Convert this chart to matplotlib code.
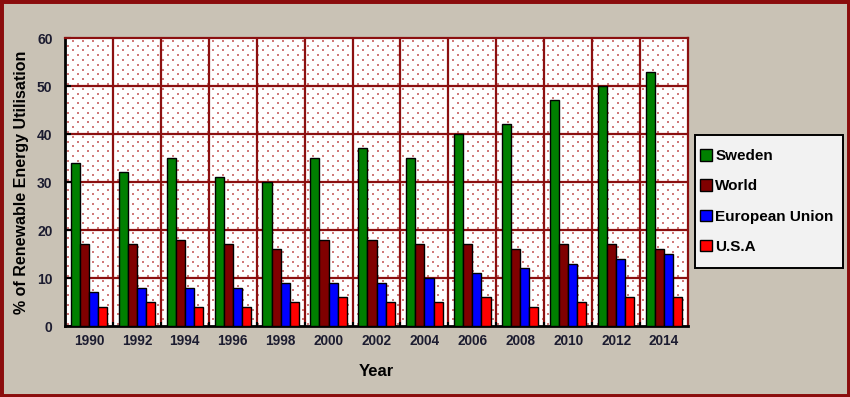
import numpy as np
import matplotlib.pyplot as plt
from matplotlib.patches import Rectangle

years = ["1990", "1992", "1994", "1996", "1998", "2000", "2002",
         "2004", "2006", "2008", "2010", "2012", "2014"]
sweden = [34, 32, 35, 31, 30, 35, 37, 35, 40, 42, 47, 50, 53]
world = [17, 17, 18, 17, 16, 18, 18, 17, 17, 16, 17, 17, 16]
eu = [7, 8, 8, 8, 9, 9, 9, 10, 11, 12, 13, 14, 15]
usa = [4, 5, 4, 4, 5, 6, 5, 5, 6, 4, 5, 6, 6]

series = [("Sweden", sweden, "#008000"),
          ("World", world, "#800000"),
          ("European Union", eu, "#0000ff"),
          ("U.S.A", usa, "#ff0000")]

plt.rcParams['font.family'] = ['Liberation Sans', 'DejaVu Sans']
plt.rcParams['font.weight'] = 'bold'

bg = "#c9c2b5"
grid_red = "#8b1010"
txt = "#1c1c30"

fig = plt.figure(figsize=(8.5, 3.97), dpi=100, facecolor=bg)
fig.patches.append(Rectangle((0, 0), 1, 1, transform=fig.transFigure,
                             fill=False, edgecolor="#8b0d0d", linewidth=5))

ax = fig.add_axes([65 / 850, 1 - 326 / 397, 623 / 850, 288 / 397])
ax.set_facecolor("white")

# dotted background pattern (staggered grid, ~10px x 5px)
gx, gy = [], []
for r, yy in enumerate(np.arange(2, 288, 4.8)):
    off = 5 if r % 2 else 0
    for xx in np.arange(3 + off, 623, 10):
        gx.append(xx / 623)
        gy.append(yy / 288)
ax.scatter(gx, gy, s=1.6, marker="s", color="#d07a7a", linewidths=0,
           transform=ax.transAxes, zorder=0)

x = np.arange(len(years))
w = 0.19
for i, (name, vals, col) in enumerate(series):
    ax.bar(x + (i - 1.5) * w, vals, w, color=col, edgecolor="black",
           linewidth=1.0, label=name, zorder=3)

ax.set_xlim(-0.5, len(years) - 0.5)
ax.set_ylim(0, 60)
ax.set_yticks(range(0, 61, 10))
ax.set_xticks(x)
ax.set_xticklabels(years)
ax.set_xticks(x[:-1] + 0.5, minor=True)

for v in range(10, 60, 10):
    ax.axhline(v, color=grid_red, linewidth=1.6, zorder=1)
for b in x[:-1] + 0.5:
    ax.axvline(b, color=grid_red, linewidth=1.6, zorder=1)

ax.tick_params(axis="x", which="major", length=0, pad=6, labelsize=9.8, labelcolor=txt)
ax.tick_params(axis="x", which="minor", length=3, direction="in", color="black", width=1.5)
ax.tick_params(axis="y", length=4, direction="in", width=1.5, pad=9, labelsize=10, labelcolor=txt)

ax.spines["left"].set_linewidth(2)
ax.spines["bottom"].set_linewidth(2)
ax.spines["top"].set_color(grid_red)
ax.spines["right"].set_color(grid_red)
ax.spines["top"].set_linewidth(1.6)
ax.spines["right"].set_linewidth(1.6)

ax.set_xlabel("Year", fontsize=12, fontweight="bold", labelpad=11)
ax.set_ylabel("% of Renewable Energy Utilisation", fontsize=11.5, fontweight="bold", labelpad=6)

fig.patches.append(Rectangle((695 / 850, 1 - 268 / 397), 148 / 850, 133 / 397,
                             transform=fig.transFigure, facecolor="#f2f2f2",
                             edgecolor="black", linewidth=1.4, zorder=1))
leg = fig.legend(loc="center left", bbox_to_anchor=(700 / 850, 1 - 201.5 / 397),
                 fontsize=11, frameon=False, borderpad=0, borderaxespad=0,
                 handlelength=0.8, handleheight=0.8, handletextpad=0.2,
                 labelspacing=1.05)
leg.set_zorder(2)

plt.savefig("out.png", dpi=100, facecolor=bg)
